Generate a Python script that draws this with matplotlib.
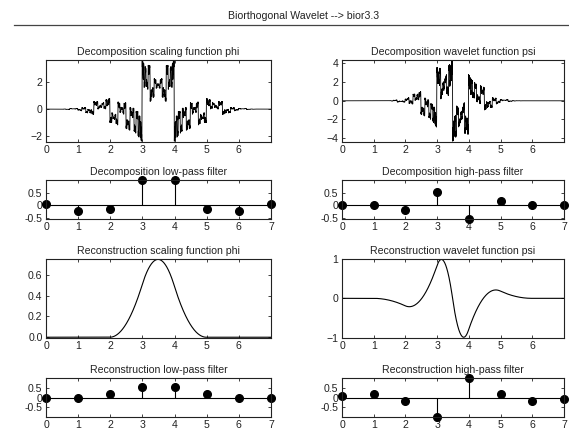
import numpy as np
import matplotlib
matplotlib.use("Agg")
import matplotlib.pyplot as plt

# ---- data: bior3.3 filters ----
filter_index = [0, 1, 2, 3, 4, 5, 6, 7]
lo_d = [0.0663, -0.1989, -0.1547, 0.9944, 0.9944, -0.1547, -0.1989, 0.0663]
hi_d = [0.0, 0.0, -0.1768, 0.5303, -0.5303, 0.1768, 0.0, 0.0]
lo_r = [0.0, 0.0, 0.1768, 0.5303, 0.5303, 0.1768, 0.0, 0.0]
hi_r = [0.0663, 0.1989, -0.1547, -0.9944, 0.9944, 0.1547, -0.1989, -0.0663]

fun_xticks = [0, 1, 2, 3, 4, 5, 6]
filt_yticks = [-0.5, 0, 0.5]
filt_yticklabels = ["-0.5", "0", "0.5"]
n_iter = 8

suptitle = "Biorthogonal Wavelet --> bior3.3"
titles = [["Decomposition scaling function phi", "Decomposition wavelet function psi"],
          ["Decomposition low-pass filter", "Decomposition high-pass filter"],
          ["Reconstruction scaling function phi", "Reconstruction wavelet function psi"],
          ["Reconstruction low-pass filter", "Reconstruction high-pass filter"]]


# ---- cascade algorithm (the functions are derived from the filters) ----
def upsample(f, step):
    u = np.zeros((len(f) - 1) * step + 1)
    u[::step] = f
    return u


def cascade(lo, J):
    p = np.sqrt(2) * np.asarray(lo)
    c = np.array([1.0])
    for j in range(J):
        c = np.convolve(c, upsample(p, 2 ** j))
    return c


def wavelet(lo, hi, J):
    c = cascade(lo, J - 1)
    q = np.sqrt(2) * np.asarray(hi)
    return np.convolve(c, upsample(q, 2 ** (J - 1)))


def on_grid(v, J):
    x = np.arange(len(v)) / 2 ** J
    x = np.append(x, 7.0)
    v = np.append(v, 0.0)
    return x, v


phi1 = on_grid(cascade(lo_d, n_iter), n_iter)
psi1 = on_grid(wavelet(lo_d, hi_d, n_iter), n_iter)
phi2 = on_grid(cascade(lo_r, n_iter), n_iter)
psi2 = on_grid(wavelet(lo_r, hi_r[::-1], n_iter), n_iter)

# ---- figure ----
FS = 7.6
plt.rcParams['font.family'] = ['Liberation Sans', 'DejaVu Sans']
plt.rcParams['font.size'] = FS
W, H = 569, 438
fig = plt.figure(figsize=(W / 100, H / 100), dpi=100)
fig.patch.set_facecolor('white')


def add_ax(x0, y0, x1, y1):
    return fig.add_axes([x0 / W, 1 - y1 / H, (x1 - x0) / W, (y1 - y0) / H])


cols = [(46, 271), (342, 564)]
rows = [(60, 142), (180, 219), (259, 338), (378, 417)]


def style(ax):
    for s in ax.spines.values():
        s.set_linewidth(0.8)
        s.set_color('#222222')
    ax.tick_params(direction='in', length=2.5, width=0.6, top=True, right=True,
                   labelsize=FS, pad=2.5, colors='#222222')


def plot_fun(ax, data, yticks, title, lw):
    x, v = data
    ax.plot(x, v, color='black', lw=lw)
    ax.set_xlim(0, 7)
    lo, hi = v.min(), v.max()
    ax.set_ylim(lo - 0.01 * (hi - lo), hi + 0.005 * (hi - lo))
    ax.set_xticks(fun_xticks)
    ax.set_yticks(yticks)
    ax.set_title(title, fontsize=FS, pad=3.5, color='#222222')
    style(ax)


def plot_filt(ax, vals, ylim, title):
    ml, sl, bl = ax.stem(filter_index, vals, linefmt='k-', markerfmt='ko', basefmt='k-')
    ml.set_markersize(5.5)
    ml.set_clip_on(False)
    sl.set_linewidth(0.8)
    bl.set_linewidth(0.8)
    bl.set_xdata([0, 7])
    ax.set_xlim(0, 7)
    ax.set_ylim(*ylim)
    ax.set_xticks(filter_index)
    ax.set_yticks(filt_yticks)
    ax.set_yticklabels(filt_yticklabels)
    ax.set_title(title, fontsize=FS, pad=3.5, color='#222222')
    style(ax)


ylim_dec = (min(min(lo_d), min(hi_d)), max(max(lo_d), max(hi_d)))
ylim_rec = (min(min(lo_r), min(hi_r)), max(max(lo_r), max(hi_r)))

ax = add_ax(cols[0][0], rows[0][0], cols[0][1], rows[0][1])
plot_fun(ax, phi1, [-2, 0, 2], titles[0][0], 0.6)
ax = add_ax(cols[1][0], rows[0][0], cols[1][1], rows[0][1])
plot_fun(ax, psi1, [-4, -2, 0, 2, 4], titles[0][1], 0.6)

ax = add_ax(cols[0][0], rows[1][0], cols[0][1], rows[1][1])
plot_filt(ax, lo_d, ylim_dec, titles[1][0])
ax = add_ax(cols[1][0], rows[1][0], cols[1][1], rows[1][1])
plot_filt(ax, hi_d, ylim_dec, titles[1][1])

ax = add_ax(cols[0][0], rows[2][0], cols[0][1], rows[2][1])
plot_fun(ax, phi2, [0, 0.2, 0.4, 0.6], titles[2][0], 0.8)
ax = add_ax(cols[1][0], rows[2][0], cols[1][1], rows[2][1])
plot_fun(ax, psi2, [-1, 0, 1], titles[2][1], 0.8)

ax = add_ax(cols[0][0], rows[3][0], cols[0][1], rows[3][1])
plot_filt(ax, lo_r, ylim_rec, titles[3][0])
ax = add_ax(cols[1][0], rows[3][0], cols[1][1], rows[3][1])
plot_filt(ax, hi_r, ylim_rec, titles[3][1])

# top title and separator line
fig.text(304 / W, 1 - 16 / H, suptitle, ha='center', va='center', fontsize=FS, color='#222222')
fig.add_artist(plt.Line2D([14 / W, 1.0], [1 - 24.5 / H, 1 - 24.5 / H],
                          transform=fig.transFigure, color='#444444', lw=0.9))

fig.savefig("out.png", dpi=100, facecolor='white')
